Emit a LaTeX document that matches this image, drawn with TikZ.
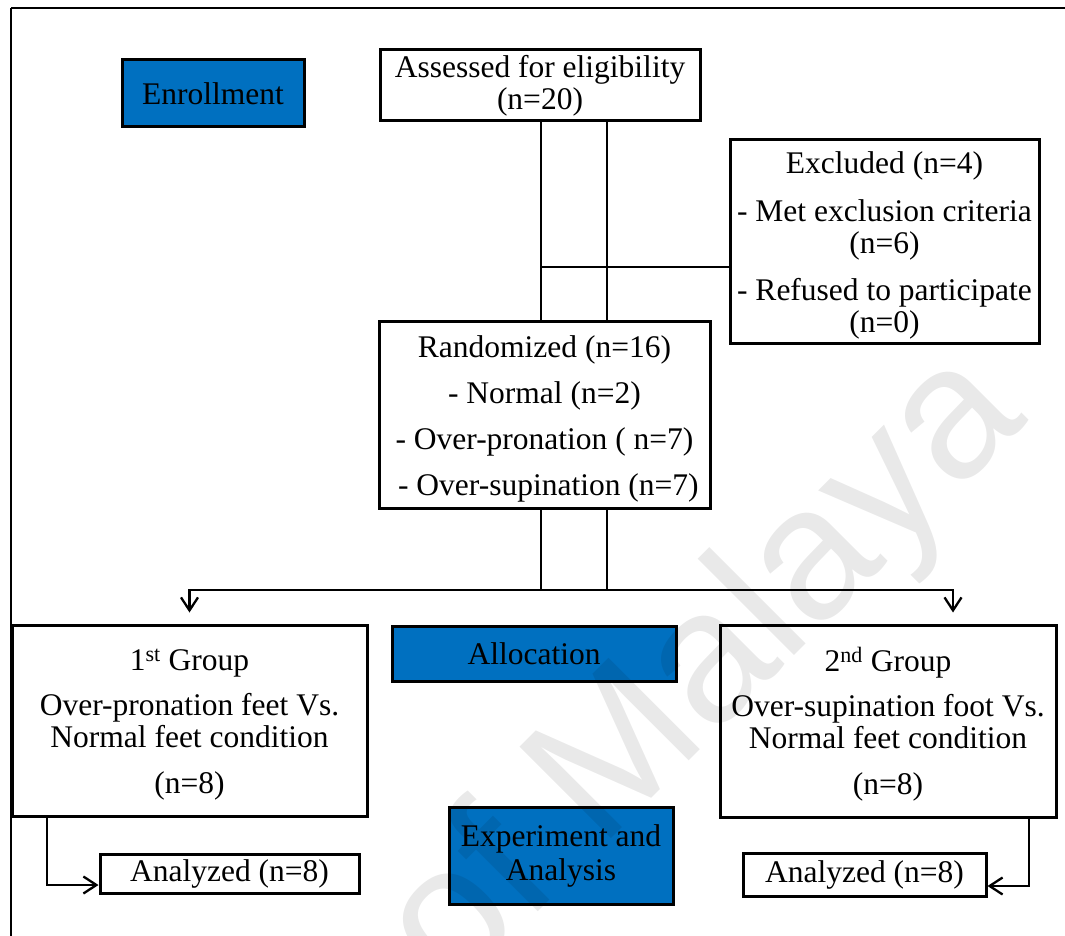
\documentclass[tikz,border=0pt]{standalone}
\usepackage{fontspec}
\setmainfont{Liberation Serif}
\newfontfamily\wmfont{Liberation Sans}
\usetikzlibrary{arrows.meta,calc}
\definecolor{stageblue}{RGB}{0,112,192}

\begin{document}
\begin{tikzpicture}[x=1pt,y=-1pt,
  font=\fontsize{31.5}{32}\selectfont,
  box/.style={draw=black, line width=3pt, fill=white, align=center, inner sep=0pt},
  stage/.style={box, fill=stageblue},
  conn/.style={draw=black, line width=2.3pt},
  barb/.style={-{Straight Barb[length=13pt,width=17pt,line width=2.3pt]}},
]
\useasboundingbox (0,0) rectangle (1065,936);

% page frame (open on the right and at the bottom)
\draw[line width=2.5pt] (1065,8) -- (11,8);
\draw[line width=1.8pt] (11,8) -- (11,936);

% stage labels
\node[stage, minimum width=182pt, minimum height=67pt] (enroll) at (213,93.5) {Enrollment};
\node[stage, minimum width=284pt, minimum height=55pt] (alloc) at (534,653.5) {Allocation};
\node[stage, minimum width=224pt, minimum height=97pt] (expt) at (561,855.5) {Experiment and\\[2pt]Analysis};

% flow boxes
\node[box, minimum width=320pt, minimum height=71pt] (assess) at (540,85.5)
  {Assessed for eligibility\\(n=20)};
\node[box, minimum width=309pt, minimum height=203pt] (excl) at (884.5,241.5)
  {\rule{0pt}{30pt}Excluded (n=4)\\[16pt]- Met exclusion criteria\\(n=6)\\[15pt]- Refused to participate\\(n=0)};
\node[box, minimum width=331pt, minimum height=187pt] (rand) at (544.5,414.5)
  {\rule{0pt}{30pt}Randomized (n=16)\\[14pt]- Normal (n=2)\\[14pt]- Over-pronation ( n=7)\\[14pt]\ - Over-supination (n=7)};
\node[box, minimum width=355pt, minimum height=191pt] (g1) at (189.5,720.5)
  {\rule{0pt}{30pt}1\textsuperscript{st} Group\\[13pt]Over-pronation feet Vs.\\Normal feet condition\\[14pt](n=8)};
\node[box, minimum width=336pt, minimum height=192pt] (g2) at (888,721)
  {\rule{0pt}{30pt}2\textsuperscript{nd} Group\\[13pt]Over-supination foot Vs.\\Normal feet condition\\[14pt](n=8)};
\node[box, minimum width=259pt, minimum height=39pt] (an1) at (229.5,873.5) {Analyzed (n=8)};
\node[box, minimum width=243pt, minimum height=43pt] (an2) at (864.5,874.5) {Analyzed (n=8)};

% guide positions for the connectors
\coordinate (c1) at (541,0);
\coordinate (c2) at (607,0);
\coordinate (hx) at (0,267);
\coordinate (hb) at (0,590);
\coordinate (ar) at (953,0);
\coordinate (d1) at (47,0);
\coordinate (d2) at (1029,0);
\coordinate (ha1) at (0,885);
\coordinate (ha2) at (0,886);

% connectors
\draw[conn] (assess.south -| c1) -- (rand.north -| c1);
\draw[conn] (assess.south -| c2) -- (rand.north -| c2);
\draw[conn] (c1 |- hx) -- (excl.west |- hx);
\draw[conn] (rand.south -| c1) -- (c1 |- hb);
\draw[conn] (rand.south -| c2) -- (c2 |- hb);
\draw[conn, barb, shorten >=11pt] (c2 |- hb) -| (g1.north);
\draw[conn, barb, shorten >=11pt] (c1 |- hb) -| (ar |- g2.north);
\draw[conn, barb] (g1.south -| d1) |- (an1.west |- ha1);
\draw[conn, barb] (g2.south -| d2) |- (an2.east |- ha2);

% watermark
\node[rotate=45, anchor=base east, text=black, opacity=0.085,
      font=\wmfont\fontsize{188}{188}\selectfont] (wm) at (1032,418) {University of Malaya};
\end{tikzpicture}
\end{document}
